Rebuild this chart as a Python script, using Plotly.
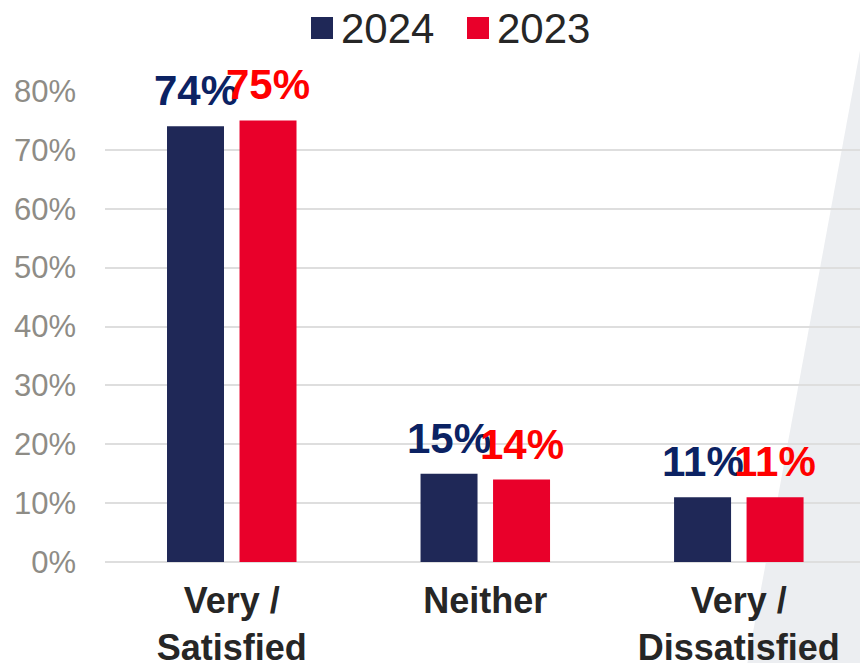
import plotly.graph_objects as go

# Survey satisfaction, share of respondents by year
categories = ["Very /<br>Satisfied", "Neither", "Very /<br>Dissatisfied"]
years = ["2024", "2023"]
values_2024 = [74, 15, 11]
values_2023 = [75, 14, 11]
tick_values = [0, 10, 20, 30, 40, 50, 60, 70, 80]
tick_labels = ["0%", "10%", "20%", "30%", "40%", "50%", "60%", "70%", "80%"]

bar_colors = {"2024": "#1f2857", "2023": "#e9002a"}
label_colors = {"2024": "#0b2263", "2023": "#ff0000"}
series = {"2024": values_2024, "2023": values_2023}

W, H = 860, 663
M_L, M_R, M_T, M_B = 105, 0, 91, 101
plot_w = W - M_L - M_R
plot_h = H - M_T - M_B

FONT = "Liberation Sans, Arial, sans-serif"

fig = go.Figure()

for yr in years:
    fig.add_trace(go.Bar(
        x=categories,
        y=series[yr],
        name=yr,
        marker=dict(color=bar_colors[yr], line=dict(width=0)),
        showlegend=False,
    ))

# value labels above each bar
slot = 0.286  # bar-centre spacing within a group, in category units
offsets = {"2024": -slot / 2, "2023": slot / 2}
annotations = []
for yr in years:
    for i, v in enumerate(series[yr]):
        annotations.append(dict(
            x=i + offsets[yr], y=v, xref="x", yref="y",
            text=f"<b>{v}%</b>", showarrow=False,
            yanchor="bottom", xanchor="center", yshift=10,
            font=dict(family=FONT, size=42, color=label_colors[yr]),
        ))

# legend drawn as large swatches with text
def px_to_paper_x(px):
    return (px - M_L) / plot_w

def px_to_paper_y(py):
    return (H - M_B - py) / plot_h

shapes = []
legend_x = [311, 467]
for yr, lx in zip(years, legend_x):
    shapes.append(dict(
        type="rect", xref="paper", yref="paper",
        x0=px_to_paper_x(lx), x1=px_to_paper_x(lx + 22),
        y0=px_to_paper_y(39), y1=px_to_paper_y(17),
        fillcolor=bar_colors[yr], line=dict(width=0), layer="above",
    ))
    annotations.append(dict(
        x=px_to_paper_x(lx + 28), y=px_to_paper_y(28), xref="paper", yref="paper",
        text=yr, showarrow=False, xanchor="left", yanchor="middle",
        font=dict(family=FONT, size=42, color="#262626"),
    ))

# light grey diagonal panel in the background
shapes.append(dict(
    type="path", xref="paper", yref="paper", layer="below",
    path=(f"M {px_to_paper_x(862)},{px_to_paper_y(40)} "
          f"L {px_to_paper_x(747)},{px_to_paper_y(665)} "
          f"L {px_to_paper_x(862)},{px_to_paper_y(665)} Z"),
    fillcolor="#eceef1", line=dict(width=0),
))

fig.update_layout(
    width=W, height=H,
    margin=dict(l=M_L, r=M_R, t=M_T, b=M_B, pad=0, autoexpand=False),
    paper_bgcolor="white", plot_bgcolor="rgba(0,0,0,0)",
    barmode="group", bargap=0.428, bargroupgap=0.214,
    showlegend=False,
    annotations=annotations, shapes=shapes,
    font=dict(family=FONT),
)

fig.update_xaxes(
    type="category", range=[-0.5, 2.478], automargin=False,
    showgrid=False, showline=False, zeroline=False,
    ticks="", ticklabelstandoff=14,
    tickfont=dict(family=FONT, size=36, color="#262626", weight="bold"),
)

fig.update_yaxes(
    range=[0, 80], tickvals=tick_values, ticktext=tick_labels, automargin=False,
    showgrid=True, gridcolor="#dedede", gridwidth=1.5,
    zeroline=True, zerolinecolor="#dedede", zerolinewidth=1.5,
    showline=False, ticks="", ticklabelstandoff=28,
    tickfont=dict(family=FONT, size=31, color="#8e8c86"),
)

fig.write_html("out.html")
